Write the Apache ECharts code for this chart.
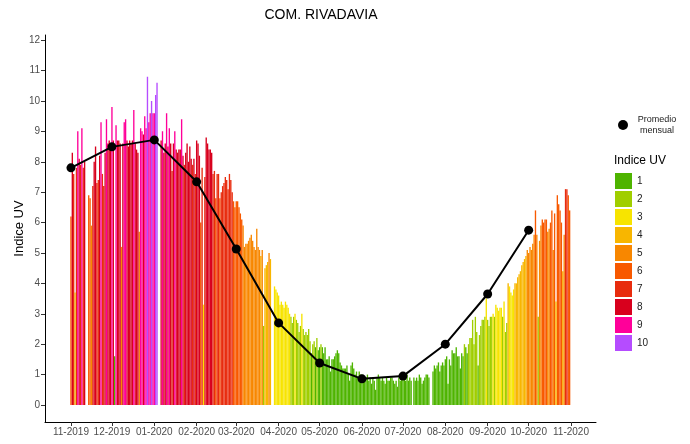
<!DOCTYPE html>
<html>
<head>
<meta charset="utf-8">
<script src="https://cdn.jsdelivr.net/npm/echarts@6/dist/echarts.min.js"></script>
<style>
html, body { margin: 0; padding: 0; background: #fff; }
#chart { width: 690px; height: 444px; }
</style>
</head>
<body>
<div id="chart"></div>
<script>
/* INDICE UV DIARIO, UN ARRAY POR MES (null = sin dato) */
var nov2019 = [6.2, 8.3, 7.6, 3.7, 7.8, 9.0, 8.1, 7.9, 9.1, 7.8, 8.0, null, null, 6.9, 6.8, 5.9, 7.2, 8.0, 8.5, 7.3, 7.4, 8.2, 9.3, 7.6, 7.2, 8.3, 9.4, 8.6, 8.7, 8.6];
var dic2019 = [9.8, 8.7, 1.6, 9.2, 8.7, 8.7, 8.6, 5.2, 8.6, 9.3, 9.4, 8.7, 8.5, 8.7, 8.6, 8.7, 9.7, 8.6, 8.4, 8.3, 5.7, 9.1, 9.0, 8.9, 9.5, 9.1, 10.8, 9.3, 9.6, 10.0, 9.6];
var ene2020 = [9.6, 10.2, 10.6, null, null, 8.7, 9.0, 8.3, 8.6, 9.6, 8.5, 9.1, 8.6, 7.7, 8.6, 9.0, 8.4, 8.3, 8.4, 8.4, 9.4, 8.2, 7.9, 8.3, 8.6, 8.0, 8.5, 8.1, 7.9, 8.1, 7.6];
var feb2020 = [8.7, 8.6, 8.2, 6.0, 7.8, 3.3, 7.5, 8.8, 8.6, 8.4, 8.4, 8.3, 7.6, 7.7, 6.8, 7.6, 7.6, 6.8, 7.0, 7.2, 7.3, 7.5, 7.4, 7.1, 7.6, 7.4, 7.0, 6.7, 6.5];
var mar2020 = [6.7, 6.7, 6.5, 6.3, 6.1, 5.9, 5.2, 5.3, 5.3, 5.4, 5.5, 5.6, 5.4, 5.2, 5.1, 5.8, 5.2, 5.1, 4.9, 5.1, 2.6, 4.5, 4.6, 4.7, 5.0, 4.8, null, null, 3.9, 3.8, 3.7];
var abr2020 = [3.6, 3.3, 3.4, 3.3, 3.2, 3.4, 3.3, 3.2, 3.0, 2.9, 2.7, 2.9, 3.0, 2.8, 2.7, 2.4, 2.6, 3.0, 2.5, 2.3, 2.4, 2.3, 2.5, 2.1, 1.7, 2.0, 2.1, 1.9, 2.2, 1.8];
var may2020 = [1.9, 2.0, 1.9, 1.7, 1.9, 1.5, 1.5, 1.6, 1.1, 1.5, 1.5, 1.6, 1.7, 1.8, 1.7, 1.4, 1.3, 1.2, 1.2, 1.2, 1.3, 1.0, 0.8, 1.3, 1.4, 1.2, 1.0, 1.1, 0.9, 1.1, 1.0];
var jun2020 = [1.0, 0.9, 0.8, 0.9, 1.0, 0.8, 0.9, 0.7, 0.9, 0.8, 0.5, 0.9, 1.0, 0.9, 0.8, 0.9, 0.8, 0.7, 0.9, 0.8, 0.8, 0.9, 0.9, 0.8, 0.7, 0.8, 0.6, 0.9, 0.8, 1.0];
var jul2020 = [1.0, 0.9, 0.8, 1.0, 0.8, 0.9, 0.8, null, 0.9, 0.8, 0.9, 0.8, 1.0, 0.9, 0.7, 0.8, 0.9, 1.0, 1.0, 0.9, null, null, 1.1, 1.3, 1.2, 1.3, 1.4, 1.1, 1.3, 1.4, 1.3];
var ago2020 = [1.5, 1.6, 0.7, 1.5, 1.3, 1.8, 1.7, 1.7, 1.9, 1.6, 1.6, 1.2, 1.7, 1.6, 2.0, 1.9, 1.7, 2.0, 2.2, 2.2, 2.8, 2.0, 2.9, 2.4, 1.3, 2.3, 2.6, 2.8, 2.8, 2.9, 3.5];
var sep2020 = [2.8, 2.6, 2.9, 2.9, 3.0, 2.9, 3.3, 3.2, 3.1, 3.2, 3.2, 2.9, 3.4, 2.4, 2.7, 4.0, 3.9, 3.7, 3.6, 3.8, 4.0, 4.0, 4.2, 4.3, 4.4, 4.6, 4.7, 4.8, 4.9, 5.1];
var oct2020 = [5.0, 5.2, 5.1, 5.3, 5.6, 6.4, 5.6, 2.9, 5.4, 5.9, 6.1, 6.0, 6.1, 6.1, 5.7, 5.8, 6.0, 6.4, 5.1, 6.3, 3.4, 6.9, 6.6, 6.4, 6.0, 4.4, 5.6, 7.1, 7.1, 6.9, 6.4];

/* PROMEDIO MENSUAL (punto en el dia 1 de cada mes) */
var monthlyMean = [7.80, 8.49, 8.72, 7.34, 5.13, 2.70, 1.38, 0.86, 0.95, 2.00, 3.65, 5.75];

/* EJE X: dia (0 = 01-11-2019) donde empieza cada mes */
var monthStart = [0, 30, 61, 92, 121, 152, 182, 213, 243, 274, 305, 335, 366];
var monthLabels = ['11-2019', '12-2019', '01-2020', '02-2020', '03-2020', '04-2020', '05-2020',
  '06-2020', '07-2020', '08-2020', '09-2020', '10-2020', '11-2020'];
var yTicks = [0, 1, 2, 3, 4, 5, 6, 7, 8, 9, 10, 11, 12];

/* CATEGORIAS DE INDICE UV */
var uvLevels = ['1', '2', '3', '4', '5', '6', '7', '8', '9', '10'];
var uvColors = ['#4eb400', '#a0ce00', '#f7e400', '#f8b600', '#f88700',
  '#f85900', '#e82c0e', '#d8001d', '#ff0099', '#b54cff'];

var uvDaily = [].concat(nov2019, dic2019, ene2020, feb2020, mar2020, abr2020,
  may2020, jun2020, jul2020, ago2020, sep2020, oct2020);

function categoria(v) {
  return Math.min(10, Math.max(1, Math.floor(v + 1e-9)));
}

var fuente = 'Liberation Sans, Arial, sans-serif';

// una serie de barras por categoria, superpuestas en el mismo dia
var barSeries = uvLevels.map(function (lvl, i) {
  var puntos = [];
  uvDaily.forEach(function (v, d) {
    if (v != null && categoria(v) === i + 1) puntos.push([d, v]);
  });
  return {
    name: lvl,
    type: 'bar',
    barWidth: 1.35,
    barGap: '-100%',
    itemStyle: { color: uvColors[i] },
    data: puntos,
    z: 2
  };
});

var lineSeries = {
  name: 'Promedio mensual',
  type: 'line',
  data: monthlyMean.map(function (m, i) { return [monthStart[i], m]; }),
  symbol: 'circle',
  symbolSize: 9,
  itemStyle: { color: '#000' },
  lineStyle: { color: '#000', width: 2 },
  z: 5
};

var myChart = echarts.init(document.getElementById('chart'));
myChart.setOption({
  animation: false,
  backgroundColor: '#fff',
  textStyle: { fontFamily: fuente },
  title: {
    text: 'COM. RIVADAVIA',
    left: 321,
    top: 8,
    padding: 0,
    textAlign: 'center',
    textStyle: { fontSize: 14, fontWeight: 'normal', color: '#000', fontFamily: fuente }
  },
  grid: { left: 45, right: 94, top: 35, bottom: 22, containLabel: false },
  xAxis: {
    type: 'value',
    min: -19,
    max: 384.3,
    splitLine: { show: false },
    axisLine: { show: true, onZero: false, lineStyle: { color: '#000', width: 1 } },
    axisTick: { show: true, customValues: monthStart, length: 4, lineStyle: { color: '#333' } },
    axisLabel: {
      customValues: monthStart,
      formatter: function (v) { return monthLabels[monthStart.indexOf(v)]; },
      fontSize: 10,
      color: '#4d4d4d',
      margin: 5
    }
  },
  yAxis: {
    type: 'value',
    min: -0.56,
    max: 12.17,
    name: 'Indice UV',
    nameLocation: 'middle',
    nameGap: 19,
    nameMoveOverlap: false,
    nameTextStyle: { fontSize: 13, color: '#000' },
    splitLine: { show: false },
    axisLine: { show: true, onZero: false, lineStyle: { color: '#000', width: 1 } },
    axisTick: { show: true, customValues: yTicks, length: 4, lineStyle: { color: '#333' } },
    axisLabel: { customValues: yTicks, fontSize: 10, color: '#4d4d4d', margin: 5 }
  },
  legend: [
    {
      data: [{ name: 'Promedio mensual', icon: 'circle' }],
      orient: 'vertical',
      left: 618,
      top: 115,
      padding: 0,
      itemWidth: 10,
      itemHeight: 10,
      formatter: function () { return '{a|Promedio}\n{a|mensual}'; },
      textStyle: {
        color: '#222',
        rich: { a: { fontSize: 9, lineHeight: 11, width: 48, align: 'center', color: '#222' } }
      }
    },
    {
      data: uvLevels,
      icon: 'rect',
      orient: 'vertical',
      left: 615,
      top: 173,
      padding: 0,
      itemWidth: 17,
      itemHeight: 16,
      itemGap: 2,
      textStyle: { fontSize: 10, color: '#222' }
    }
  ],
  graphic: [
    {
      type: 'text',
      left: 614,
      top: 155,
      style: { text: 'Indice UV', fontSize: 12, fill: '#000', fontFamily: fuente }
    }
  ],
  series: barSeries.concat([lineSeries])
});
</script>
</body>
</html>
